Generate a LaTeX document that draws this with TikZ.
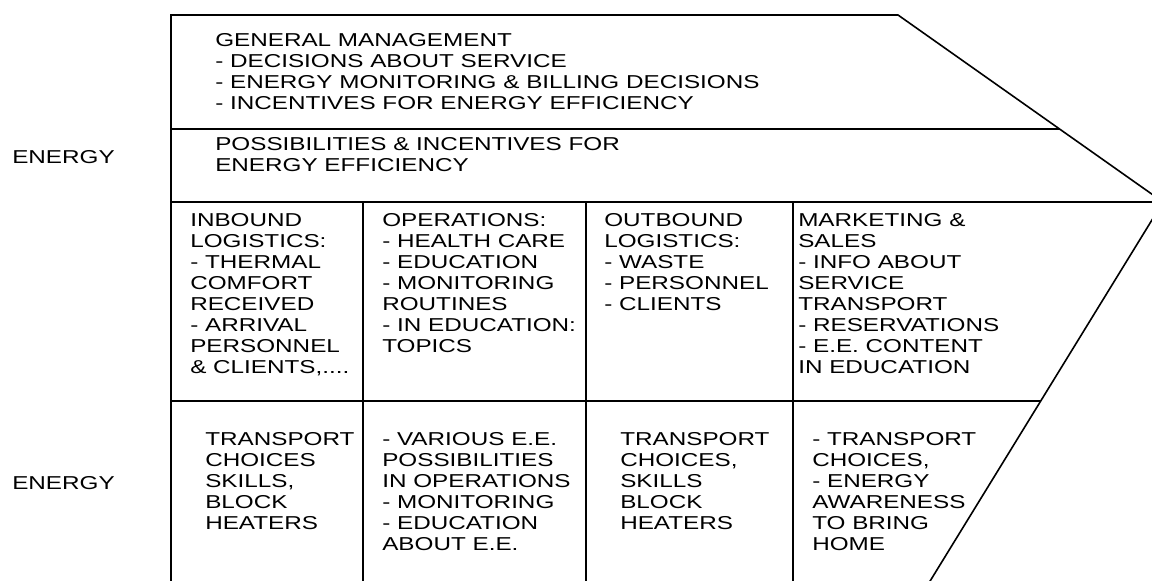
\documentclass[tikz,border=0pt]{standalone}
\usepackage{fontspec}
\setmainfont{Liberation Sans}[FakeStretch=1.3]

\begin{document}
\begin{tikzpicture}[
      x=0.75pt, y=-0.75pt,
      txt/.style={anchor=north west, inner sep=0pt, align=left,
                  font=\fontsize{14}{15.75}\selectfont},
      frame/.style={draw, line width=1.2pt}
    ]
    \useasboundingbox (0,0) rectangle (1152,581);
    \clip (0,0) rectangle (1152,581);

    % Outline of the chain
    \coordinate (tl) at (171,15);
    \coordinate (tr) at (898,15);
    \coordinate (tip) at (1163,202);
    \coordinate (bl) at (171,595);
    \coordinate (br) at (921.5,595);
    \draw[frame] (bl) -- (tl) -- (tr) -- (tip) -- (br);

    % Rows
    \draw[frame] (171,129) -- (1059.5,129);
    \draw[frame] (171,202) -- (tip);
    \draw[frame] (171,401) -- (1040.6,401);

    % Columns
    \foreach \x in {363,586,793}
      \draw[frame] (\x,202) -- (\x,595);

    % Support activities
    \node[txt] (mgmt) at (215,33) {GENERAL MANAGEMENT\\
      - DECISIONS ABOUT SERVICE\\
      - ENERGY MONITORING \& BILLING DECISIONS\\
      - INCENTIVES FOR ENERGY EFFICIENCY};
    \node[txt] (incent) at (215,137) {POSSIBILITIES \& INCENTIVES FOR\\
      ENERGY EFFICIENCY};

    % Side labels
    \node[txt] (energytop) at (12,150) {ENERGY};
    \node[txt] (energybot) at (12,476) {ENERGY};

    % Primary activities
    \node[txt] (inbound) at (190,213) {INBOUND\\LOGISTICS:\\- THERMAL\\COMFORT\\
      RECEIVED\\- ARRIVAL\\PERSONNEL\\\& CLIENTS,....};
    \node[txt] (operations) at (382,213) {OPERATIONS:\\- HEALTH CARE\\
      - EDUCATION\\- MONITORING\\ROUTINES\\- IN EDUCATION:\\TOPICS};
    \node[txt] (outbound) at (604,213) {OUTBOUND\\LOGISTICS:\\- WASTE\\
      - PERSONNEL\\- CLIENTS};
    \node[txt] (marketing) at (798,213) {MARKETING \&\\SALES\\- INFO ABOUT\\
      SERVICE\\TRANSPORT\\- RESERVATIONS\\- E.E. CONTENT\\IN EDUCATION};

    % Energy efficiency per activity
    \node[txt] (inboundee) at (205,432) {TRANSPORT\\CHOICES\\SKILLS,\\
      BLOCK\\HEATERS};
    \node[txt] (operationsee) at (382,432) {- VARIOUS E.E.\\POSSIBILITIES\\
      IN OPERATIONS\\- MONITORING\\- EDUCATION\\ABOUT E.E.};
    \node[txt] (outboundee) at (620,432) {TRANSPORT\\CHOICES,\\SKILLS\\
      BLOCK\\HEATERS};
    \node[txt] (marketingee) at (812,432) {- TRANSPORT\\CHOICES,\\
      - ENERGY\\AWARENESS\\TO BRING\\HOME};

  \end{tikzpicture}
\end{document}
